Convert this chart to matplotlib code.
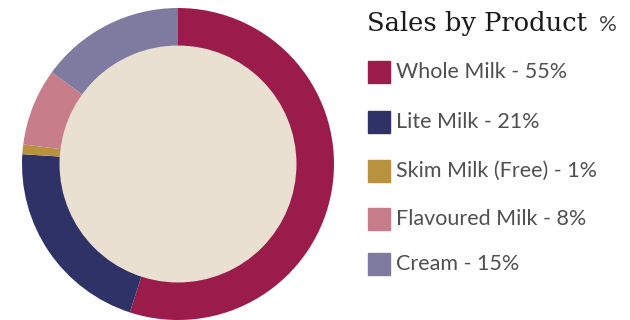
import matplotlib
matplotlib.use("Agg")
import matplotlib.pyplot as plt
from matplotlib.patches import Rectangle, Circle

products = ["Whole Milk", "Lite Milk", "Skim Milk (Free)", "Flavoured Milk", "Cream"]
shares = [55, 21, 1, 8, 15]
colors = ["#9B1B4A", "#2E3266", "#B8923F", "#C77E8A", "#7F7BA0"]
title = "Sales by Product"

W, H = 630, 320
fig = plt.figure(figsize=(W / 100, H / 100), dpi=100)
fig.patch.set_facecolor("white")

# donut, centre ~ (178,164) px, radius ~156 px
cx, cy, r = 178, 164, 156
ax = fig.add_axes([(cx - r) / W, (H - cy - r) / H, 2 * r / W, 2 * r / H])
ax.pie(shares, colors=colors, startangle=90, counterclock=False, radius=1,
       wedgeprops=dict(width=0.25, linewidth=0))
ax.add_patch(Circle((0, 0), 0.755, color="#EAE0D2", zorder=3))
ax.set_xlim(-1, 1)
ax.set_ylim(-1, 1)
ax.set_aspect("equal")
ax.axis("off")

# title
fig.text(367 / W, 1 - 23 / H, title, fontsize=18.5, family="DejaVu Serif",
         color="#1a1a1a", va="center", ha="left")
fig.text(599 / W, 1 - 25 / H, "%", fontsize=16, family="Lato",
         color="#444444", va="center", ha="left")

# legend
row_y = [72, 122, 171, 219, 264]
for name, val, col, y in zip(products, shares, colors, row_y):
    fig.patches.append(Rectangle((368 / W, 1 - (y + 11) / H), 22 / W, 22 / H,
                                 transform=fig.transFigure, color=col))
    fig.text(396 / W, 1 - y / H, "%s - %d%%" % (name, val), fontsize=15.5,
             family="Lato", color="#505050",
             va="center", ha="left")

plt.savefig("out.png", dpi=100)
